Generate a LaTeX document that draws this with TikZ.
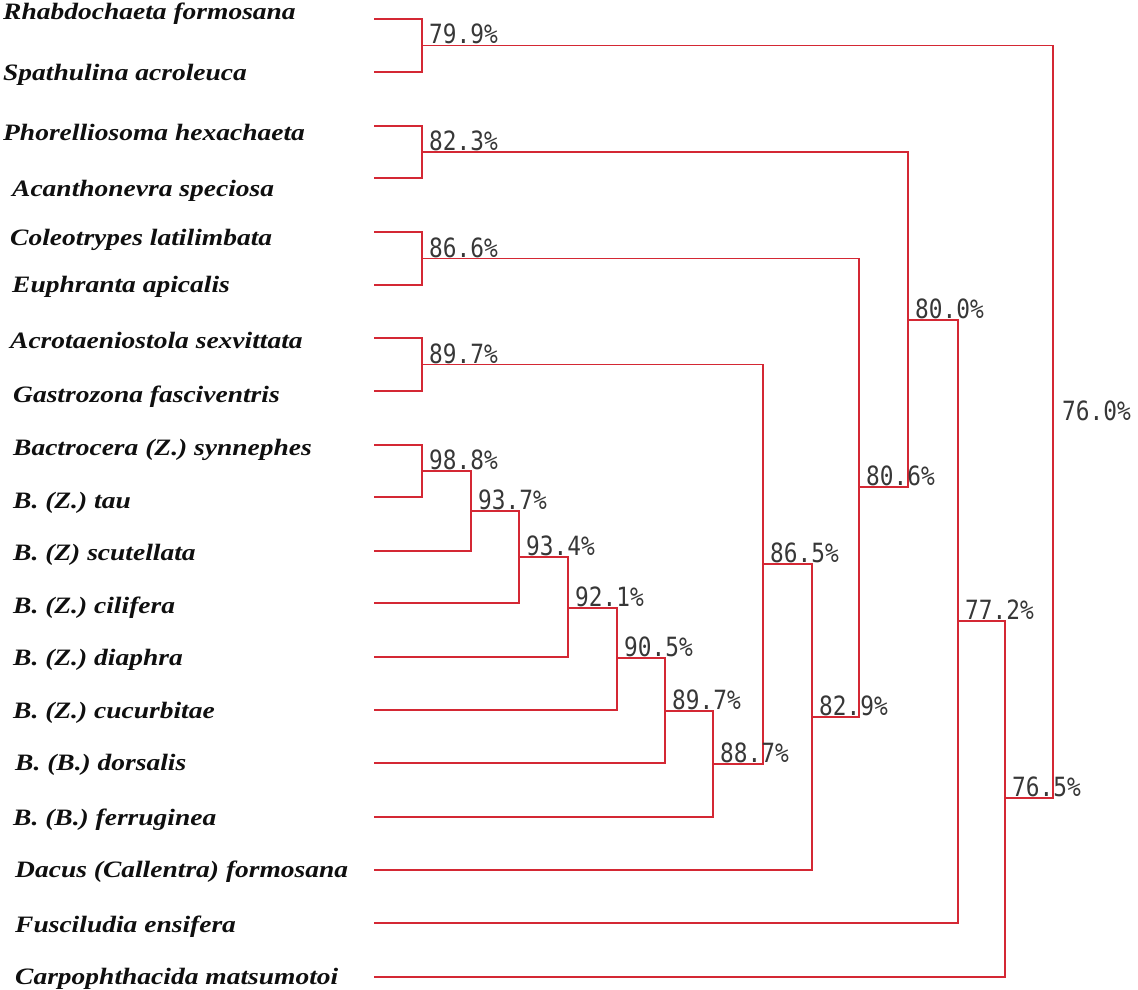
\documentclass[tikz,border=0pt]{standalone}
\usepackage{fontspec}
\newfontfamily\spfont[FakeStretch=1.17]{Liberation Serif}
\newfontfamily\pcfont[FakeStretch=0.86]{DejaVu Sans Mono}
\definecolor{treered}{RGB}{212,40,52}
\definecolor{pctext}{RGB}{55,55,55}
\definecolor{sptext}{RGB}{15,15,15}
\tikzset{
  branch/.style={draw=treered, line width=1.8pt},
  species/.style={anchor=base west, inner sep=0pt, text=sptext,
    font=\spfont\fontsize{23.5}{26}\selectfont\bfseries\itshape},
  pct/.style={anchor=base west, inner sep=0pt, text=pctext,
    font=\pcfont\fontsize{26.5}{28}\selectfont},
}
\begin{document}
\begin{tikzpicture}[x=1pt,y=-1pt]
\useasboundingbox (0,0) rectangle (1138,990);

% species labels
\node[species] (s1)  at (3,20)   {Rhabdochaeta formosana};
\node[species] (s2)  at (3,81)   {Spathulina acroleuca};
\node[species] (s3)  at (3,140)  {Phorelliosoma hexachaeta};
\node[species] (s4)  at (12,196) {Acanthonevra speciosa};
\node[species] (s5)  at (10,245) {Coleotrypes latilimbata};
\node[species] (s6)  at (12,292) {Euphranta apicalis};
\node[species] (s7)  at (10,348) {Acrotaeniostola sexvittata};
\node[species] (s8)  at (13,402) {Gastrozona fasciventris};
\node[species] (s9)  at (13,455) {Bactrocera (Z.) synnephes};
\node[species] (s10) at (13,508) {B. (Z.) tau};
\node[species] (s11) at (13,560) {B. (Z) scutellata};
\node[species] (s12) at (13,613) {B. (Z.) cilifera};
\node[species] (s13) at (13,665) {B. (Z.) diaphra};
\node[species] (s14) at (13,718) {B. (Z.) cucurbitae};
\node[species] (s15) at (15,770) {B. (B.) dorsalis};
\node[species] (s16) at (13,825) {B. (B.) ferruginea};
\node[species] (s17) at (15,877) {Dacus (Callentra) formosana};
\node[species] (s18) at (15,932) {Fusciludia ensifera};
\node[species] (s19) at (15,984) {Carpophthacida matsumotoi};

% leaf ends
\coordinate (l1) at (374,19);
\coordinate (l2) at (374,72);
\coordinate (l3) at (374,126);
\coordinate (l4) at (374,178);
\coordinate (l5) at (374,232);
\coordinate (l6) at (374,285);
\coordinate (l7) at (374,338);
\coordinate (l8) at (374,391);
\coordinate (l9) at (374,445);
\coordinate (l10) at (374,497);
\coordinate (l11) at (374,551);
\coordinate (l12) at (374,603);
\coordinate (l13) at (374,657);
\coordinate (l14) at (374,710);
\coordinate (l15) at (374,763);
\coordinate (l16) at (374,817);
\coordinate (l17) at (374,870);
\coordinate (l18) at (374,923);
\coordinate (l19) at (374,977);

% junctions
\coordinate (n1) at (422,45.5);
\coordinate (n2) at (422,152);
\coordinate (n3) at (422,258.5);
\coordinate (n4) at (422,364.5);
\coordinate (b1) at (422,471);
\coordinate (b2) at (471,511);
\coordinate (b3) at (519,557);
\coordinate (b4) at (568,608);
\coordinate (b5) at (617,658);
\coordinate (b6) at (665,711);
\coordinate (b7) at (713,764);
\coordinate (c1) at (763,564);
\coordinate (c2) at (812,717);
\coordinate (c3) at (859,487);
\coordinate (c4) at (908,320);
\coordinate (c5) at (958,621);
\coordinate (c6) at (1005,798);
\coordinate (c7) at (1053,422);

% branches
\draw[branch] (l1) -| (n1);  \draw[branch] (l2) -| (n1);
\draw[branch] (l3) -| (n2);  \draw[branch] (l4) -| (n2);
\draw[branch] (l5) -| (n3);  \draw[branch] (l6) -| (n3);
\draw[branch] (l7) -| (n4);  \draw[branch] (l8) -| (n4);
\draw[branch] (l9) -| (b1);  \draw[branch] (l10) -| (b1);
\draw[branch] (b1) -| (b2);  \draw[branch] (l11) -| (b2);
\draw[branch] (b2) -| (b3);  \draw[branch] (l12) -| (b3);
\draw[branch] (b3) -| (b4);  \draw[branch] (l13) -| (b4);
\draw[branch] (b4) -| (b5);  \draw[branch] (l14) -| (b5);
\draw[branch] (b5) -| (b6);  \draw[branch] (l15) -| (b6);
\draw[branch] (b6) -| (b7);  \draw[branch] (l16) -| (b7);
\draw[branch] (n4) -| (c1);  \draw[branch] (b7) -| (c1);
\draw[branch] (c1) -| (c2);  \draw[branch] (l17) -| (c2);
\draw[branch] (n3) -| (c3);  \draw[branch] (c2) -| (c3);
\draw[branch] (n2) -| (c4);  \draw[branch] (c3) -| (c4);
\draw[branch] (c4) -| (c5);  \draw[branch] (l18) -| (c5);
\draw[branch] (c5) -| (c6);  \draw[branch] (l19) -| (c6);
\draw[branch] (n1) -| (c7);  \draw[branch] (c6) -| (c7);

% percentages
\node[pct] (pn1) at ([shift={(7,-1.5)}]n1) {79.9\%};
\node[pct] (pn2) at ([shift={(7,-1.5)}]n2) {82.3\%};
\node[pct] (pn3) at ([shift={(7,-1.5)}]n3) {86.6\%};
\node[pct] (pn4) at ([shift={(7,-1.5)}]n4) {89.7\%};
\node[pct] (pb1) at ([shift={(7,-1.5)}]b1) {98.8\%};
\node[pct] (pb2) at ([shift={(7,-1.5)}]b2) {93.7\%};
\node[pct] (pb3) at ([shift={(7,-1.5)}]b3) {93.4\%};
\node[pct] (pb4) at ([shift={(7,-1.5)}]b4) {92.1\%};
\node[pct] (pb5) at ([shift={(7,-1.5)}]b5) {90.5\%};
\node[pct] (pb6) at ([shift={(7,-1.5)}]b6) {89.7\%};
\node[pct] (pb7) at ([shift={(7,-1.5)}]b7) {88.7\%};
\node[pct] (pc1) at ([shift={(7,-1.5)}]c1) {86.5\%};
\node[pct] (pc2) at ([shift={(7,-1.5)}]c2) {82.9\%};
\node[pct] (pc3) at ([shift={(7,-1.5)}]c3) {80.6\%};
\node[pct] (pc4) at ([shift={(7,-1.5)}]c4) {80.0\%};
\node[pct] (pc5) at ([shift={(7,-1.5)}]c5) {77.2\%};
\node[pct] (pc6) at ([shift={(7,-1.5)}]c6) {76.5\%};
\node[pct] (pc7) at ([shift={(9,-2)}]c7) {76.0\%};
\end{tikzpicture}
\end{document}
